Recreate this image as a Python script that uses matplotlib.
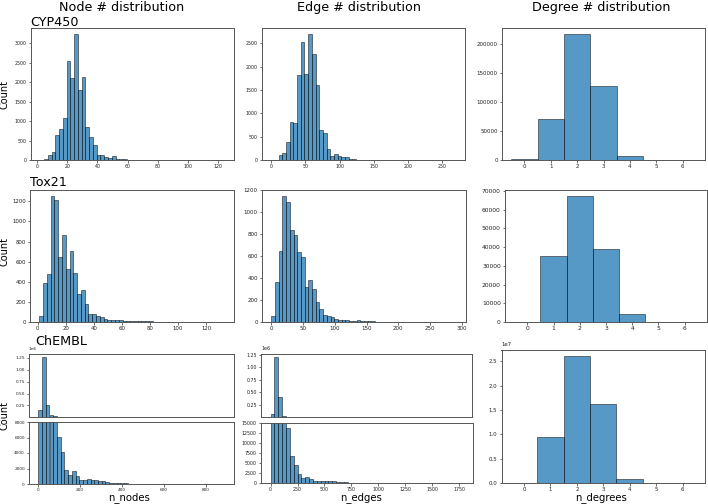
import numpy as np
import matplotlib
matplotlib.use("Agg")
import matplotlib.pyplot as plt
from matplotlib.ticker import MultipleLocator

# ---------------- data (histogram bin counts) ----------------
cyp_nodes_start, cyp_nodes_width = 2.0, 2.5
cyp_nodes_counts = [5, 20, 130, 200, 650, 800, 1080, 2550, 2100, 3230, 1800, 2130, 840, 590, 380,
                    140, 140, 70, 60, 100, 20, 15, 20, 10, 8, 6, 5, 4, 4, 3, 3, 2, 2, 2, 1, 1, 2,
                    1, 1, 1, 0, 1, 1, 0, 0, 1, 0, 0, 1]

cyp_edges_start, cyp_edges_width = 0.0, 5.4
cyp_edges_counts = [5, 10, 110, 150, 390, 810, 800, 1820, 2530, 1840, 2690, 2260, 1610, 640, 570,
                    240, 90, 130, 90, 70, 60, 30, 20, 10, 8, 6, 5, 4, 3, 3, 2, 2, 2, 1, 1, 1, 1, 1,
                    0, 1, 0, 0, 1, 0, 0, 0, 1, 0, 0, 1]

tox_nodes_start, tox_nodes_width = 1.0, 2.7
tox_nodes_counts = [57, 390, 480, 1250, 1215, 650, 870, 525, 705, 490, 275, 315, 180, 77, 75, 55,
                    45, 28, 20, 22, 20, 15, 14, 12, 10, 8, 7, 6, 10, 5, 4, 3, 2, 3, 2, 1, 2, 1, 1,
                    1, 1, 0, 1, 0, 1, 1, 0, 1, 1]

tox_edges_start, tox_edges_width = 0.0, 5.84
tox_edges_counts = [55, 360, 650, 1143, 1088, 841, 792, 640, 594, 317, 384, 302, 183, 116, 64, 55,
                    46, 30, 20, 15, 20, 12, 10, 15, 10, 5, 8, 5, 4, 4, 3, 3, 2, 2, 1, 2, 1, 1, 1,
                    0, 1, 1, 0, 1, 0, 1, 0, 0, 1, 1]

chembl_nodes_start, chembl_nodes_width = 1.0, 17.8
chembl_nodes_counts = [158000, 1270000, 264000, 46000, 22000, 6050, 4065, 1816, 1124, 1643, 1080,
                       475, 520, 690, 520, 475, 450, 450, 300, 120, 100, 80, 70, 90, 60, 40, 30,
                       25, 20, 15, 12, 10, 8, 6, 5, 4, 3, 3, 2, 2, 2, 1, 1, 1, 1, 0, 1, 0, 0, 1]

chembl_edges_start, chembl_edges_width = 0.0, 35.8
chembl_edges_counts = [68000, 1200000, 405000, 34000, 13650, 6740, 4380, 2190, 1180, 1516, 1095,
                       450, 500, 600, 400, 550, 400, 250, 300, 200, 120, 100, 80, 60, 50, 40, 30,
                       25, 20, 15, 12, 10, 8, 6, 5, 4, 3, 3, 2, 2, 1, 1, 1, 1, 0, 1, 0, 0, 0, 1]

degrees = [0, 1, 2, 3, 4, 5, 6]
cyp_degree_counts = [1000, 71000, 217000, 128000, 7000, 200, 50]
tox_degree_counts = [100, 35400, 67200, 38800, 4100, 50, 10]
chembl_degree_counts = [100000, 9430000, 26000000, 16250000, 900000, 20000, 5000]

datasets = ["CYP450", "Tox21", "ChEMBL"]
col_titles = ["Node # distribution", "Edge # distribution", "Degree # distribution"]
xlabels = ["n_nodes", "n_edges", "n_degrees"]

# ---------------- figure ----------------
W, H = 708, 504
fig = plt.figure(figsize=(W / 100, H / 100), dpi=100)

BAR = dict(color='#1f77b4', alpha=0.75, edgecolor='black', linewidth=0.45)


def px_axes(l, t, r, b, **kw):
    return fig.add_axes([l / W, 1 - b / H, (r - l) / W, (b - t) / H], **kw)


def style(ax, fs):
    for s in ax.spines.values():
        s.set_linewidth(0.7)
        s.set_edgecolor('#555555')
    ax.tick_params(labelsize=fs, length=1.8, width=0.5, pad=1.2,
                   color='#333333', labelcolor='#222222')
    ax.yaxis.get_offset_text().set_fontsize(fs)
    ax.yaxis.get_offset_text().set_color('#222222')


def hist(ax, start, width, counts):
    counts = np.asarray(counts, dtype=float)
    lefts = start + width * np.arange(len(counts))
    ax.bar(lefts, counts, width=width, align='edge', **BAR)


def degree(ax, counts):
    ax.bar(degrees, counts, width=1.0, **BAR)
    ax.xaxis.set_major_locator(MultipleLocator(1))


# Row 1 : CYP450
ax = px_axes(31, 28, 234, 160)
hist(ax, cyp_nodes_start, cyp_nodes_width, cyp_nodes_counts)
ax.xaxis.set_major_locator(MultipleLocator(20))
ax.yaxis.set_major_locator(MultipleLocator(500))
style(ax, 3.4)

ax = px_axes(262, 28, 465, 160)
hist(ax, cyp_edges_start, cyp_edges_width, cyp_edges_counts)
ax.xaxis.set_major_locator(MultipleLocator(50))
ax.yaxis.set_major_locator(MultipleLocator(500))
style(ax, 3.4)

ax = px_axes(502, 28, 705, 160)
degree(ax, cyp_degree_counts)
ax.yaxis.set_major_locator(MultipleLocator(50000))
style(ax, 4.0)

# Row 2 : Tox21
ax = px_axes(30, 190, 234, 322)
hist(ax, tox_nodes_start, tox_nodes_width, tox_nodes_counts)
ax.xaxis.set_major_locator(MultipleLocator(20))
ax.yaxis.set_major_locator(MultipleLocator(200))
style(ax, 3.9)

ax = px_axes(262, 190, 466, 322)
hist(ax, tox_edges_start, tox_edges_width, tox_edges_counts)
ax.xaxis.set_major_locator(MultipleLocator(50))
ax.yaxis.set_major_locator(MultipleLocator(200))
style(ax, 4.0)

ax = px_axes(505, 190, 707, 322)
degree(ax, tox_degree_counts)
ax.yaxis.set_major_locator(MultipleLocator(10000))
style(ax, 4.3)

# Row 3 : ChEMBL (broken y axis for nodes and edges)
ax_lo = px_axes(29, 422, 234, 484)
ax_hi = px_axes(29, 354, 234, 417, sharex=ax_lo)
for a in (ax_hi, ax_lo):
    hist(a, chembl_nodes_start, chembl_nodes_width, chembl_nodes_counts)
ax_lo.set_ylim(0, 8000)
ax_hi.set_ylim(bottom=8000)
ax_lo.xaxis.set_major_locator(MultipleLocator(200))
ax_lo.yaxis.set_major_locator(MultipleLocator(2000))
ax_hi.yaxis.set_major_locator(MultipleLocator(250000))
style(ax_lo, 3.1)
style(ax_hi, 3.1)
ax_hi.tick_params(axis='x', bottom=False, labelbottom=False)

ax_lo = px_axes(261, 423, 473, 483)
ax_hi = px_axes(261, 354, 472, 417, sharex=ax_lo)
for a in (ax_hi, ax_lo):
    hist(a, chembl_edges_start, chembl_edges_width, chembl_edges_counts)
ax_lo.set_ylim(0, 15000)
ax_hi.set_ylim(bottom=15000)
ax_lo.xaxis.set_major_locator(MultipleLocator(250))
ax_lo.yaxis.set_major_locator(MultipleLocator(2500))
ax_hi.yaxis.set_major_locator(MultipleLocator(250000))
style(ax_lo, 3.4)
style(ax_hi, 3.4)
ax_hi.tick_params(axis='x', bottom=False, labelbottom=False)

ax = px_axes(501.5, 350, 705, 483)
degree(ax, chembl_degree_counts)
ax.yaxis.set_major_locator(MultipleLocator(5e6))
style(ax, 3.9)

# ---------------- texts ----------------
title_x = [121.5, 359, 601.7]
for x, t in zip(title_x, col_titles):
    fig.text(x / W, 1 - 11 / H, t, ha='center', va='baseline', fontsize=9.2)

row_label_pos = [(30, 26), (30, 186), (35, 345)]
for (x, y), t in zip(row_label_pos, datasets):
    fig.text(x / W, 1 - y / H, t, ha='left', va='baseline', fontsize=9.2)

for y in [94.7, 251.7, 415]:
    fig.text(4.2 / W, 1 - y / H, "Count", rotation=90, ha='center', va='center', fontsize=7)

xlabel_x = [129.5, 361.3, 601.5]
for x, t in zip(xlabel_x, xlabels):
    fig.text(x / W, 1 - 497.5 / H, t, ha='center', va='center', fontsize=7.3)

fig.savefig("out.png", dpi=100)
